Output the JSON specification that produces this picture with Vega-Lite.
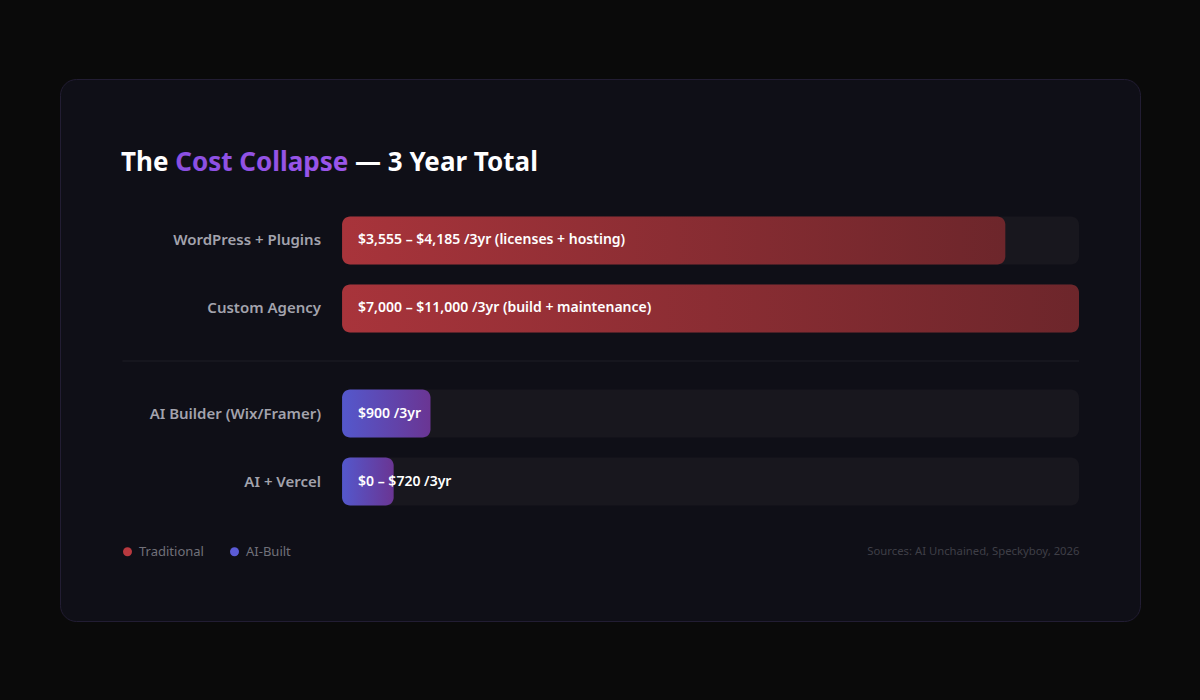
{
  "$schema": "https://vega.github.io/schema/vega-lite/v6.json",
  "width": 1080,
  "height": 542,
  "autosize": "none",
  "padding": {"left": 60, "top": 79, "right": 60, "bottom": 79},
  "background": "#0a0a0a",
  "config": {
    "view": {"fill": "#0f0f17", "stroke": "#221d33", "strokeWidth": 1, "cornerRadius": 16},
    "font": "Noto Sans"
  },
  "title": {
    "text": "The Cost Collapse — 3 Year Total",
    "anchor": "start",
    "frame": "group",
    "dx": 61,
    "offset": -118,
    "baseline": "alphabetic",
    "fontSize": 26,
    "fontWeight": "bold",
    "font": "Noto Sans",
    "color": {"value": {
      "gradient": "linear", "x1": 0, "x2": 1, "y1": 0, "y2": 0,
      "stops": [
        {"offset": 0, "color": "#ffffff"},
        {"offset": 0.131, "color": "#ffffff"},
        {"offset": 0.131, "color": "#8a4fe2"},
        {"offset": 0.548, "color": "#9c56ea"},
        {"offset": 0.548, "color": "#ffffff"},
        {"offset": 1, "color": "#ffffff"}
      ]
    }}
  },
  "data": {
    "values": [
      {"group": "Traditional", "slot": 1, "category": "WordPress + Plugins", "label": "$3,555 – $4,185 /3yr (licenses + hosting)", "pct": 90},
      {"group": "Traditional", "slot": 2, "category": "Custom Agency", "label": "$7,000 – $11,000 /3yr (build + maintenance)", "pct": 100},
      {"group": "AI-Built", "slot": 1, "category": "AI Builder (Wix/Framer)", "label": "$900 /3yr", "pct": 12},
      {"group": "AI-Built", "slot": 2, "category": "AI + Vercel", "label": "$0 – $720 /3yr", "pct": 7}
    ]
  },
  "encoding": {
    "y": {
      "field": "group",
      "type": "nominal",
      "axis": null,
      "scale": {"domain": ["Traditional", "AI-Built"], "range": [127.5, 436.5], "paddingInner": 0.2139, "paddingOuter": 0}
    },
    "yOffset": {
      "field": "slot",
      "type": "ordinal",
      "scale": {"domain": [1, 2], "paddingInner": 0.2941, "paddingOuter": 0.147}
    }
  },
  "layer": [
    {
      "mark": {"type": "point", "filled": true, "opacity": 1},
      "encoding": {
        "x": {
          "datum": 50,
          "type": "quantitative",
          "scale": {"domain": [-29.8, 100], "range": [61, 1019]},
          "axis": {
            "title": "Sources: AI Unchained, Speckyboy, 2026",
            "orient": "bottom",
            "domain": false, "ticks": false, "labels": false, "grid": false,
            "titleAnchor": "end", "titleAlign": "right", "titleBaseline": "middle",
            "titleY": -70, "titleFontSize": 11.3, "titleFontWeight": "normal",
            "titleColor": "#3f3f47", "titleFont": "Noto Sans"
          }
        },
        "color": {
          "field": "group",
          "type": "nominal",
          "scale": {"domain": ["Traditional", "AI-Built"], "range": ["#b8393f", "#5b5bd6"]},
          "legend": {
            "title": null,
            "orient": "none",
            "direction": "horizontal",
            "legendX": 61,
            "legendY": 466,
            "symbolType": "circle",
            "symbolSize": 81,
            "symbolStrokeWidth": 0,
            "labelColor": "#71717a",
            "labelFontSize": 13,
            "labelFont": "Noto Sans",
            "labelOffset": 5,
            "columnPadding": 24
          }
        }
      }
    },
    {
      "mark": {"type": "bar", "color": "#18171e", "cornerRadius": 8},
      "encoding": {"x": {"datum": 100, "type": "quantitative"}}
    },
    {
      "transform": [{"filter": "datum.group === 'Traditional'"}],
      "mark": {
        "type": "bar", "cornerRadius": 8,
        "color": {"gradient": "linear", "x1": 0, "x2": 1, "y1": 0, "y2": 0,
          "stops": [{"offset": 0, "color": "#a8343b"}, {"offset": 1, "color": "#6d262b"}]}
      },
      "encoding": {"x": {"field": "pct", "type": "quantitative", "stack": null}}
    },
    {
      "transform": [{"filter": "datum.group === 'AI-Built'"}],
      "mark": {
        "type": "bar", "cornerRadius": 8,
        "color": {"gradient": "linear", "x1": 0, "x2": 1, "y1": 0, "y2": 0,
          "stops": [{"offset": 0, "color": "#5458cc"}, {"offset": 1, "color": "#6a3593"}]}
      },
      "encoding": {"x": {"field": "pct", "type": "quantitative", "stack": null}}
    },
    {
      "data": {"values": [{"divider": "groups"}]},
      "mark": {"type": "rule", "color": "#1f1e27", "strokeWidth": 1},
      "encoding": {
        "x": {"datum": -29.8, "type": "quantitative"},
        "x2": {"datum": 100},
        "y": {"datum": "AI-Built", "type": "nominal", "bandPosition": -0.136},
        "yOffset": null
      }
    },
    {
      "mark": {"type": "text", "align": "right", "baseline": "middle", "dx": -21, "fontSize": 15, "fontWeight": 600, "color": "#a3a3ad"},
      "encoding": {
        "x": {"datum": 0, "type": "quantitative"},
        "text": {"field": "category"}
      }
    },
    {
      "mark": {"type": "text", "align": "left", "baseline": "middle", "dx": 16, "fontSize": 14, "fontWeight": 600, "color": "#ffffff"},
      "encoding": {
        "x": {"datum": 0, "type": "quantitative"},
        "text": {"field": "label"}
      }
    }
  ]
}
